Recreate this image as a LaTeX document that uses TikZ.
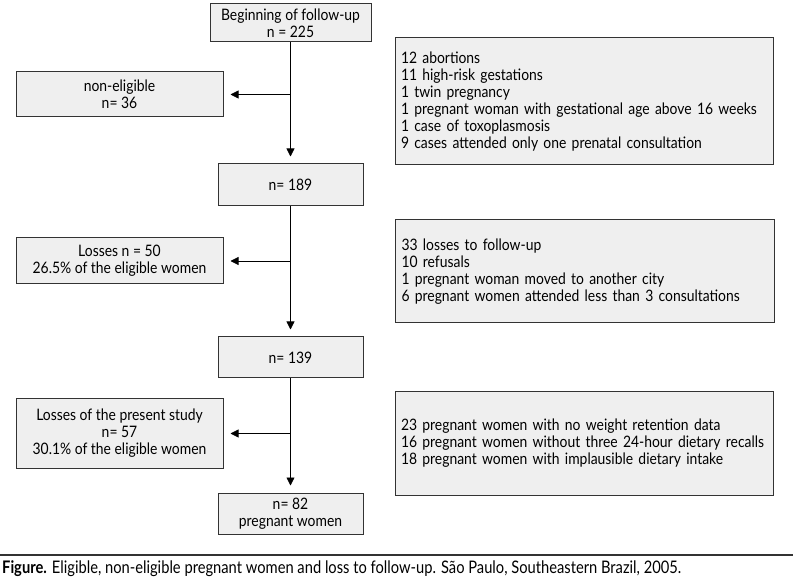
\documentclass[tikz,border=0pt]{standalone}
\usepackage{fontspec}
\setmainfont[FakeStretch=0.88]{Lato}
\newfontfamily\capfont[FakeStretch=0.85]{Lato}
\usetikzlibrary{arrows.meta}
\definecolor{boxfill}{HTML}{EFEFEF}
\definecolor{boxline}{HTML}{333333}
\tikzset{
  fbox/.style={draw=boxline, line width=1pt, fill=boxfill, align=center, inner sep=0pt,
    font=\fontsize{15.8}{17}\selectfont},
  listbox/.style={fbox, align=left, inner xsep=6pt, text width=366pt},
  arr/.style={draw=black, line width=0.8pt, -{Triangle[length=8pt,width=8pt]}, shorten >=7pt}
}
\begin{document}
\begin{tikzpicture}[x=1pt,y=-1pt]
\useasboundingbox (0,0) rectangle (793,577);
\node[fbox, minimum width=161pt, minimum height=38pt] (b1) at (290.5,23) {Beginning of follow-up\\n = 225};
\node[fbox, minimum width=207pt, minimum height=45pt] (ne) at (119.5,94.5) {non-eligible\\n= 36};
\node[listbox, minimum width=378pt, minimum height=127pt] (r1) at (584,101.5) {12 abortions\\11 high-risk gestations\\1 twin pregnancy\\1 pregnant woman with gestational age above 16 weeks\\1 case of toxoplasmosis\\9 cases attended only one prenatal consultation};
\node[fbox, minimum width=145pt, minimum height=42pt] (n189) at (290.5,185) {n= 189};
\node[fbox, minimum width=207pt, minimum height=46pt] (l1) at (119.5,261) {Losses n = 50\\26.5\% of the eligible women};
\node[listbox, minimum width=379pt, minimum height=103pt] (r2) at (584.5,271.5) {33 losses to follow-up\\10 refusals\\1 pregnant woman moved to another city\\6 pregnant women attended less than 3 consultations};
\node[fbox, minimum width=145pt, minimum height=41pt] (n139) at (290.5,357.5) {n= 139};
\node[fbox, minimum width=207pt, minimum height=69pt] (l2) at (119.5,433.5) {Losses of the present study\\n= 57\\30.1\% of the eligible women};
\node[listbox, minimum width=378pt, minimum height=103pt] (r3) at (584,443.5) {23 pregnant women with no weight retention data\\16 pregnant women without three 24-hour dietary recalls\\18 pregnant women with implausible dietary intake};
\node[fbox, minimum width=145pt, minimum height=41pt] (n82) at (290.5,513.5) {n= 82\\pregnant women};
\coordinate (c1) at (290.5,94.5);
\coordinate (c2) at (290.5,261);
\coordinate (c3) at (290.5,433.5);
\draw[arr] (b1.south) -- (n189.north);
\draw[arr] (c1) -- (ne.east);
\draw[arr] (n189.south) -- (n139.north);
\draw[arr] (c2) -- (l1.east);
\draw[arr] (n139.south) -- (n82.north);
\draw[arr] (c3) -- (l2.east);
\coordinate (la) at (0,555);
\coordinate (lb) at (793,555);
\draw[line width=1.6pt, draw=boxline] (la) -- (lb);
\node[anchor=west, inner sep=0pt, font=\capfont\fontsize{17.3}{18}\selectfont] (cap) at (2,569) {\textbf{Figure.} Eligible, non-eligible pregnant women and loss to follow-up. São Paulo, Southeastern Brazil, 2005.};
\end{tikzpicture}
\end{document}
